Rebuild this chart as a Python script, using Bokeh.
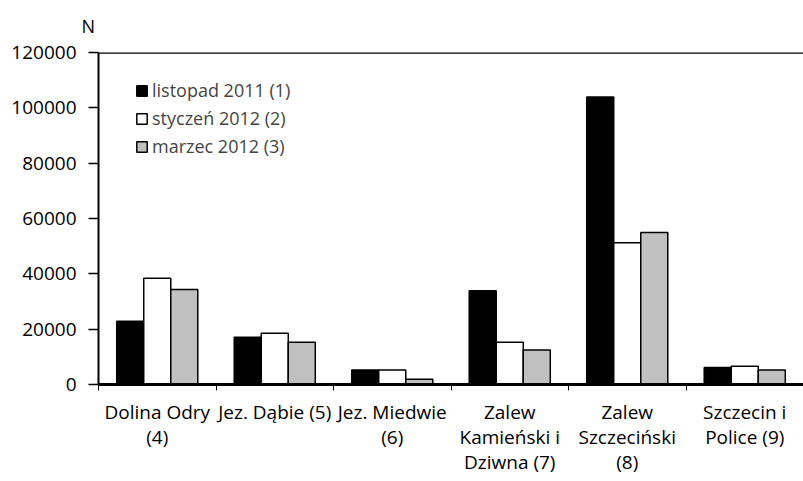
from bokeh.plotting import figure
from bokeh.models import (ColumnDataSource, FixedTicker, Range1d, Legend, LegendItem,
                          Span, BasicTickFormatter)
from bokeh.embed import file_html
from bokeh.resources import INLINE

categories = ["Dolina Odry\n(4)", "Jez. Dąbie (5)", "Jez. Miedwie\n(6)",
              "Zalew\nKamieński i\nDziwna (7)", "Zalew\nSzczeciński\n(8)",
              "Szczecin i\nPolice (9)"]
series_names = ["listopad 2011 (1)", "styczeń 2012 (2)", "marzec 2012 (3)"]
listopad_2011 = [22900, 17100, 5200, 33900, 103900, 6100]
styczen_2012 = [38400, 18500, 5200, 15300, 51200, 6600]
marzec_2012 = [34300, 15300, 1900, 12500, 54900, 5200]
y_ticks = [0, 20000, 40000, 60000, 80000, 100000, 120000]

FONT = "Open Sans"
fills = ["#000000", "#ffffff", "#c0c0c0"]
series = [listopad_2011, styczen_2012, marzec_2012]

p = figure(width=803, height=481, output_backend="svg", toolbar_location=None,
           x_range=Range1d(0, 6), y_range=Range1d(0, 120000),
           min_border_left=98, min_border_right=0, min_border_top=52, min_border_bottom=97)
p.outline_line_color = None
p.grid.visible = False
p.background_fill_color = "white"

p.title.text = "N"
p.title.align = "left"
p.title.offset = -17
p.title.vertical_align = "top"
p.title.text_font = FONT
p.title.text_font_size = "18px"
p.title.text_font_style = "normal"
p.title.text_color = "black"
p.title.standoff = 26

bw = 0.23
offsets = [-bw, 0, bw]
renderers = []
for vals, fc, off in zip(series, fills, offsets):
    src = ColumnDataSource(dict(x=[i + 0.5 + off for i in range(len(vals))], top=vals))
    r = p.vbar(x="x", top="top", width=bw, bottom=0, source=src,
               fill_color=fc, line_color="#000000", line_width=1.5)
    renderers.append(r)

# axes
xa = p.xaxis[0]
xa.ticker = FixedTicker(ticks=[i + 0.5 for i in range(6)],
                        minor_ticks=list(range(7)))
xa.major_label_overrides = {i + 0.5: c for i, c in enumerate(categories)}
xa.major_tick_out = 0
xa.major_tick_in = 0
xa.minor_tick_out = 6
xa.minor_tick_in = 0
xa.minor_tick_line_color = "black"
xa.axis_line_width = 3
xa.axis_line_color = "black"
xa.major_label_text_font = FONT
xa.major_label_text_font_size = "19px"
xa.major_label_text_color = "black"
xa.major_label_standoff = 8
xa.major_label_text_line_height = 0.98

ya = p.yaxis[0]
ya.ticker = FixedTicker(ticks=y_ticks, minor_ticks=[])
ya.formatter = BasicTickFormatter(use_scientific=False)
ya.major_tick_out = 10
ya.major_tick_in = 0
ya.major_tick_line_color = "black"
ya.major_tick_line_width = 1.5
ya.axis_line_width = 2
ya.axis_line_color = "black"
ya.major_label_text_font = FONT
ya.major_label_text_font_size = "19px"
ya.major_label_text_color = "black"
ya.major_label_standoff = 12

p.add_layout(Span(location=120000, dimension="width", line_color="black", line_width=2.5))

legend = Legend(items=[LegendItem(label=n, renderers=[r]) for n, r in zip(series_names, renderers)],
                location=(37, 226), glyph_width=13, glyph_height=13, label_standoff=4,
                label_height=20, spacing=4, padding=4, margin=0,
                label_text_font=FONT, label_text_font_size="18px",
                border_line_color=None, background_fill_alpha=0)
p.add_layout(legend)

open("out.html", "w").write(file_html(p, INLINE))
